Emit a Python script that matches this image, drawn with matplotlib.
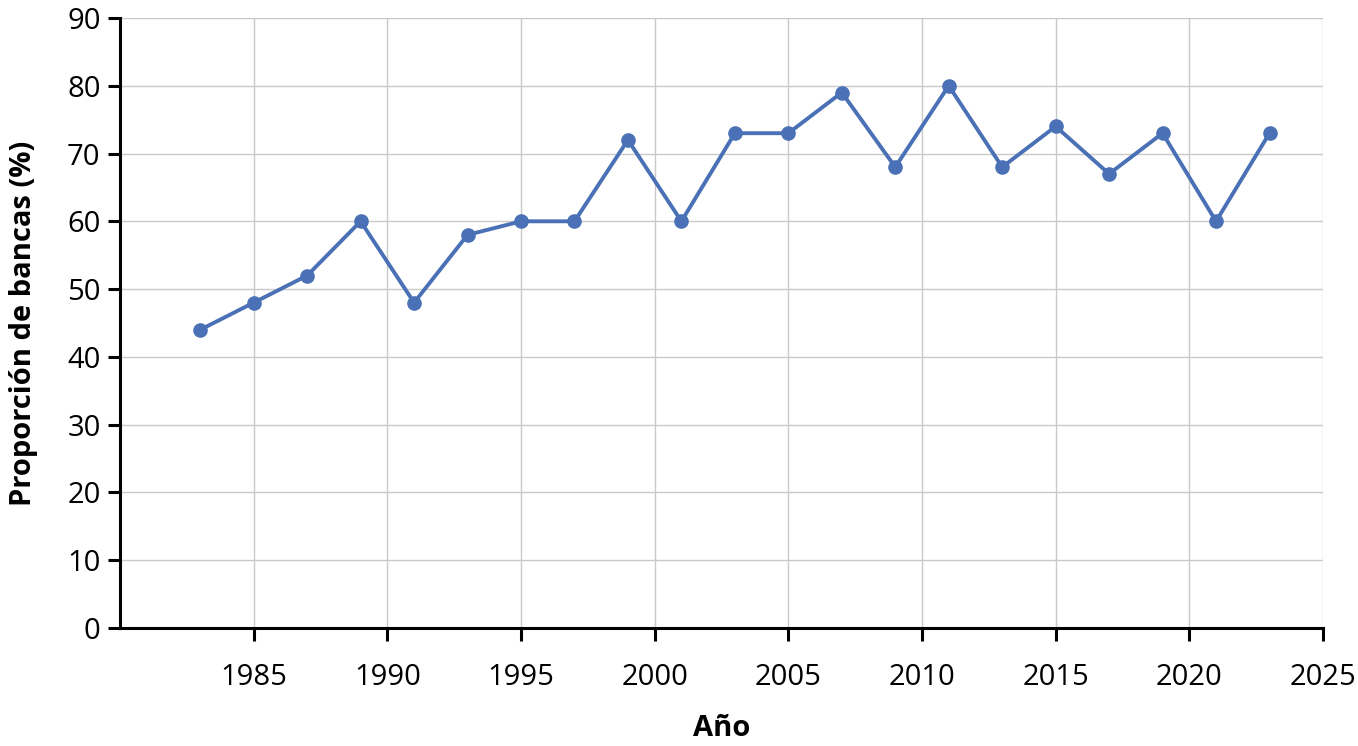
import matplotlib
matplotlib.use("Agg")
import matplotlib.pyplot as plt

years = [1983, 1985, 1987, 1989, 1991, 1993, 1995, 1997, 1999, 2001, 2003,
         2005, 2007, 2009, 2011, 2013, 2015, 2017, 2019, 2021, 2023]
share = [44, 48, 52, 60, 48, 58, 60, 60, 72, 60, 73,
         73, 79, 68, 80, 68, 74, 67, 73, 60, 73]
x_ticks = [1985, 1990, 1995, 2000, 2005, 2010, 2015, 2020, 2025]
y_ticks = list(range(0, 91, 10))

plt.rcParams['font.family'] = ['Open Sans', 'DejaVu Sans']

fig = plt.figure(figsize=(13.58, 7.46), dpi=100)
ax = fig.add_axes([0.0884, 0.1582, 0.9742 - 0.0884, 0.9759 - 0.1582])

ax.plot(years, share, color='#4a70b6', linewidth=2.8, marker='o',
        markersize=9.5, zorder=3)

ax.set_xlim(1980, 2025)
ax.set_ylim(0, 90)
ax.set_xticks(x_ticks)
ax.set_yticks(y_ticks)
ax.grid(True, color='#c9c9c9', linewidth=1.0)
ax.set_axisbelow(True)

for side in ['top', 'right']:
    ax.spines[side].set_visible(False)
for side in ['left', 'bottom']:
    ax.spines[side].set_linewidth(2.2)
    ax.spines[side].set_color('black')

ax.tick_params(axis='both', direction='out', length=9, width=2.2,
               labelsize=21, colors='black')
ax.tick_params(axis='x', pad=16)
ax.tick_params(axis='y', pad=5)

ax.set_xlabel('Año', fontsize=21, fontweight='bold', labelpad=16)
ax.set_ylabel('Proporción de bancas (%)', fontsize=21, fontweight='bold',
              labelpad=21)

fig.savefig('out.png', dpi=100)
